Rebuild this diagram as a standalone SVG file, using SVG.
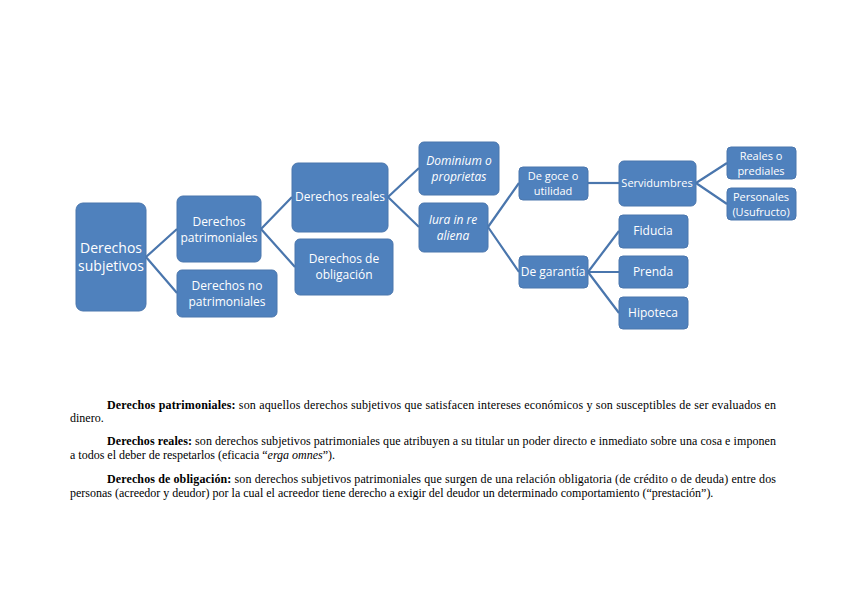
<svg xmlns="http://www.w3.org/2000/svg" width="848" height="599" viewBox="0 0 848 599">
<style>
.n{fill:#4f81bd;stroke:#4a76ad;stroke-width:1}
.t{fill:#fff;font-family:"Open Sans","Liberation Sans",sans-serif;font-size:12px;text-anchor:middle}
.s{font-size:11px}
.i{font-style:italic}
.c{stroke:#4a76ad;stroke-width:2.2;fill:none}
.p{font-family:"Liberation Serif",serif;font-size:12px;fill:#000}
</style>
<rect width="848" height="599" fill="#fff"/>
<g id="connectors" class="c">
<path d="M146 257L177 229M146 257L177 293"/>
<path d="M261 229L292 197M261 229L295 267"/>
<path d="M388 197L419 168M388 197L419 227"/>
<path d="M488 227L519 183M488 227L519 272"/>
<path d="M588 183L619 183"/>
<path d="M588 272L619 231M588 272L619 272M588 272L619 313"/>
<path d="M696 183L727 163M696 183L727 204"/>
</g>
<g id="n1"><rect class="n" x="76" y="203" width="70" height="108" rx="7"/><text class="t" x="111" y="253" style="font-size:14px">Derechos</text><text class="t" x="111" y="271" style="font-size:14px">subjetivos</text></g>
<g id="n2"><rect class="n" x="177" y="196" width="84" height="66" rx="6"/><text class="t" x="219" y="226">Derechos</text><text class="t" x="219" y="242">patrimoniales</text></g>
<g id="n3"><rect class="n" x="177" y="270" width="100" height="47" rx="5"/><text class="t" x="227" y="290">Derechos no</text><text class="t" x="227" y="306">patrimoniales</text></g>
<g id="n4"><rect class="n" x="292" y="163" width="96" height="69" rx="6"/><text class="t" x="340" y="201">Derechos reales</text></g>
<g id="n5"><rect class="n" x="295" y="239" width="98" height="56" rx="5"/><text class="t" x="344" y="263">Derechos de</text><text class="t" x="344" y="279">obligación</text></g>
<g id="n6"><rect class="n" x="419" y="142" width="80" height="53" rx="5"/><text class="t i" x="459" y="165">Dominium o</text><text class="t i" x="459" y="181">proprietas</text></g>
<g id="n7"><rect class="n" x="419" y="203" width="69" height="49" rx="5"/><text class="t i" x="453" y="224">Iura in re</text><text class="t i" x="453" y="240">aliena</text></g>
<g id="n8"><rect class="n" x="519" y="167" width="69" height="33" rx="4"/><text class="t s" x="553" y="180">De goce o</text><text class="t s" x="553" y="195">utilidad</text></g>
<g id="n9"><rect class="n" x="519" y="256" width="69" height="32" rx="4"/><text class="t" x="553" y="276">De garantía</text></g>
<g id="n10"><rect class="n" x="619" y="161" width="77" height="45" rx="5"/><text class="t" x="657" y="187" style="font-size:11px">Servidumbres</text></g>
<g id="n11"><rect class="n" x="619" y="215" width="69" height="33" rx="4"/><text class="t" x="653" y="235">Fiducia</text></g>
<g id="n12"><rect class="n" x="619" y="256" width="69" height="32" rx="4"/><text class="t" x="653" y="276">Prenda</text></g>
<g id="n13"><rect class="n" x="619" y="297" width="69" height="32" rx="4"/><text class="t" x="653" y="317">Hipoteca</text></g>
<g id="n14"><rect class="n" x="727" y="147" width="69" height="32" rx="4"/><text class="t s" x="761" y="160">Reales o</text><text class="t s" x="761" y="175">prediales</text></g>
<g id="n15"><rect class="n" x="727" y="188" width="69" height="32" rx="4"/><text class="t s" x="761" y="201">Personales</text><text class="t s" x="761" y="216">(Usufructo)</text></g>
<text class="p" x="107" y="409" textLength="669" lengthAdjust="spacing"><tspan font-weight="bold">Derechos patrimoniales:</tspan> son aquellos derechos subjetivos que satisfacen intereses económicos y son susceptibles de ser evaluados en</text>
<text class="p" x="70" y="422">dinero.</text>
<text class="p" x="107" y="445" textLength="669" lengthAdjust="spacing"><tspan font-weight="bold">Derechos reales:</tspan> son derechos subjetivos patrimoniales que atribuyen a su titular un poder directo e inmediato sobre una cosa e imponen</text>
<text class="p" x="70" y="459">a todos el deber de respetarlos (eficacia “<tspan font-style="italic">erga omnes</tspan>”).</text>
<text class="p" x="107" y="483" textLength="669" lengthAdjust="spacing"><tspan font-weight="bold">Derechos de obligación:</tspan> son derechos subjetivos patrimoniales que surgen de una relación obligatoria (de crédito o de deuda) entre dos</text>
<text class="p" x="70" y="497">personas (acreedor y deudor) por la cual el acreedor tiene derecho a exigir del deudor un determinado comportamiento (“prestación”).</text>
</svg>
